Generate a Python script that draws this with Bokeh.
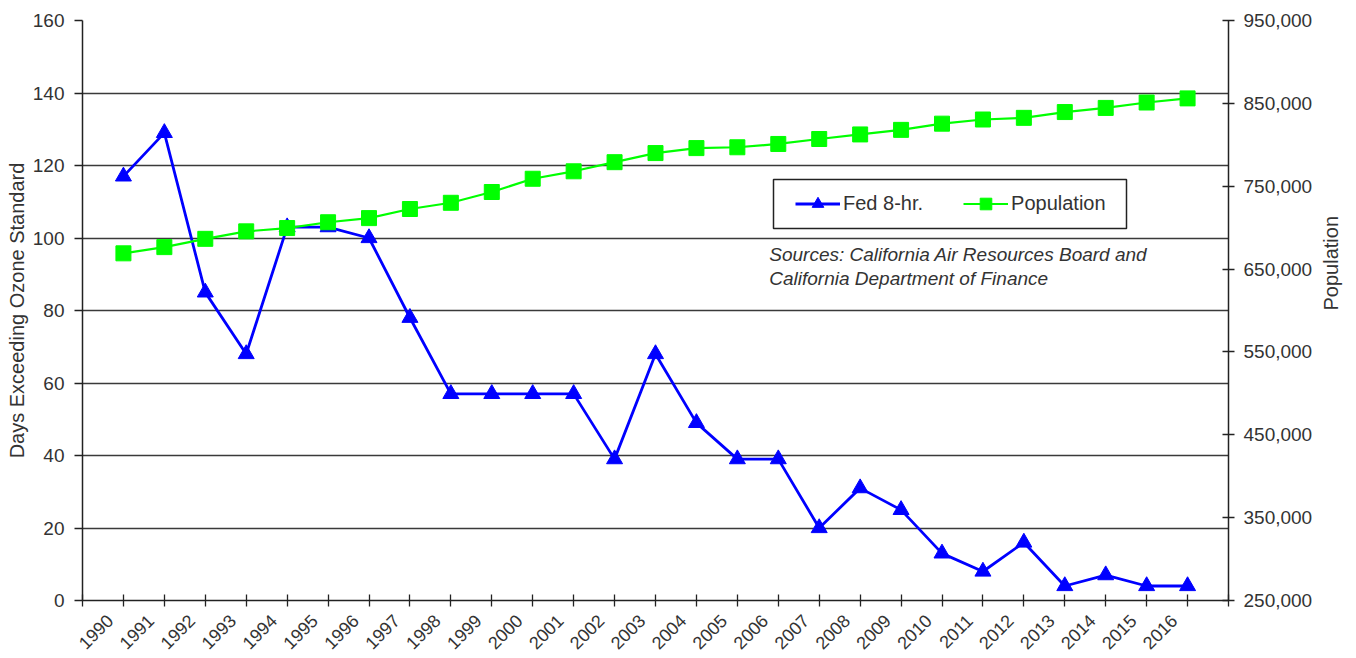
import math
from bokeh.plotting import figure
from bokeh.models import (Range1d, LinearAxis, FixedTicker, NumeralTickFormatter,
                          Legend, LegendItem, Label, BoxAnnotation)
from bokeh.embed import file_html
from bokeh.resources import INLINE

years = [str(y) for y in range(1990, 2017)]
fed_8hr = [117, 129, 85, 68, 103, 103, 100, 78, 57, 57, 57, 57, 39, 68, 49,
           39, 39, 20, 31, 25, 13, 8, 16, 4, 7, 4, 4]
population = [669000, 676500, 686500, 695500, 699500, 706500, 711500, 722500,
              730000, 743000, 759000, 768000, 779000, 790000, 796000, 797000,
              801000, 807000, 812500, 818000, 825500, 830500, 832500, 839500,
              844500, 851000, 856000]
left_ticks = [0, 20, 40, 60, 80, 100, 120, 140, 160]
right_ticks = [250000, 350000, 450000, 550000, 650000, 750000, 850000, 950000]
source_lines = ["Sources: California Air Resources Board and",
                "California Department of Finance"]

FONT = "Liberation Sans"
TXT = "#333333"
AX = "#222222"

x = list(range(len(years)))

W, H = 1356, 658
FL, FT, FR, FB = 82, 20, 1230, 600   # frame edges on the canvas

p = figure(width=W, height=H, output_backend="svg", toolbar_location=None,
           x_range=Range1d(-1, len(years)), y_range=Range1d(0, 160),
           min_border_left=FL, min_border_right=W - FR, min_border_top=FT,
           min_border_bottom=H - FB, outline_line_color=None,
           background_fill_color="white", border_fill_color="white")
p.extra_y_ranges = {"pop": Range1d(250000, 950000)}

# x axis: tick marks at every year (minor ticks), slanted year labels placed
# slightly left of each tick as in the original (major ticks, no marks)
LBL_SHIFT = -0.33
lab_ticks = [i + LBL_SHIFT for i in x]
xa = p.xaxis[0]
xa.ticker = FixedTicker(ticks=lab_ticks, minor_ticks=list(range(-1, len(years) + 1)))
xa.major_label_overrides = {t: y for t, y in zip(lab_ticks, years)}
xa.major_tick_line_color = None
xa.major_tick_in = 0
xa.major_tick_out = 0
xa.minor_tick_in = 6
xa.minor_tick_out = 6
xa.minor_tick_line_color = AX
xa.minor_tick_line_width = 1.3
xa.axis_line_color = AX
xa.axis_line_width = 1.5
xa.major_label_orientation = math.pi / 4
xa.major_label_text_font = FONT
xa.major_label_text_font_size = "18px"
xa.major_label_text_color = TXT
xa.major_label_standoff = 11

# left axis
ya = p.yaxis[0]
ya.ticker = FixedTicker(ticks=left_ticks)
ya.axis_label = "Days Exceeding Ozone Standard"
ya.axis_label_text_font = FONT
ya.axis_label_text_font_size = "20px"
ya.axis_label_text_font_style = "normal"
ya.axis_label_text_color = TXT
ya.axis_label_standoff = 2
ya.major_label_text_font = FONT
ya.major_label_text_font_size = "19px"
ya.major_label_text_color = TXT
ya.major_label_standoff = 10
ya.major_tick_in = 0
ya.major_tick_out = 8
ya.minor_tick_line_color = None
ya.axis_line_color = AX
ya.major_tick_line_color = AX
ya.axis_line_width = 1.5
ya.major_tick_line_width = 1.3

# right axis
ra = LinearAxis(y_range_name="pop", ticker=FixedTicker(ticks=right_ticks),
                formatter=NumeralTickFormatter(format="0,0"))
ra.axis_label = "Population"
ra.axis_label_text_font = FONT
ra.axis_label_text_font_size = "20px"
ra.axis_label_text_font_style = "normal"
ra.axis_label_text_color = TXT
ra.axis_label_standoff = 16
if "axis_label_orientation" in ra.properties():
    ra.axis_label_orientation = math.pi / 2
ra.major_label_text_font = FONT
ra.major_label_text_font_size = "19px"
ra.major_label_text_color = TXT
ra.major_label_standoff = 9
ra.major_tick_in = 6
ra.major_tick_out = 6
ra.minor_tick_line_color = None
ra.axis_line_color = AX
ra.major_tick_line_color = AX
ra.axis_line_width = 1.5
ra.major_tick_line_width = 1.3
p.add_layout(ra, "right")

p.xgrid.grid_line_color = None
p.ygrid.grid_line_color = "#3a3a3a"
p.ygrid.grid_line_width = 1.5

BLUE = "#0000FF"
GREEN = "#00FF00"

l1 = p.line(x, fed_8hr, line_color=BLUE, line_width=2.8)
s1 = p.scatter(x, fed_8hr, marker="triangle", size=16, fill_color=BLUE,
               line_color=BLUE)
l2 = p.line(x, population, y_range_name="pop", line_color=GREEN, line_width=2.2)
s2 = p.scatter(x, population, y_range_name="pop", marker="square", size=15,
               fill_color=GREEN, line_color=GREEN)

# legend frame
p.add_layout(BoxAnnotation(left=773 - FL, right=1126 - FL,
                           top=FB - 179, bottom=FB - 228,
                           left_units="screen", right_units="screen",
                           top_units="screen", bottom_units="screen",
                           fill_color="white", fill_alpha=1.0,
                           line_color=AX, line_width=1.5, line_alpha=1.0))

legend = Legend(items=[LegendItem(label="Fed 8-hr.", renderers=[l1, s1]),
                       LegendItem(label="Population", renderers=[l2, s2])],
                orientation="horizontal", location=(795 - FL, FB - 218),
                label_text_font=FONT, label_text_font_size="20px",
                label_text_color=TXT, glyph_width=45, glyph_height=29,
                label_standoff=3, spacing=40, padding=10, margin=0,
                border_line_color=None,
                background_fill_color="white", background_fill_alpha=0.0)
p.add_layout(legend, "center")

for i, txt in enumerate(source_lines):
    p.add_layout(Label(x=15.78, y=95.4 - 6.6 * i, text=txt,
                       text_font=FONT, text_font_size="19px",
                       text_font_style="italic", text_color=TXT,
                       text_baseline="middle", text_align="left"))

open("out.html", "w").write(file_html(p, INLINE))
